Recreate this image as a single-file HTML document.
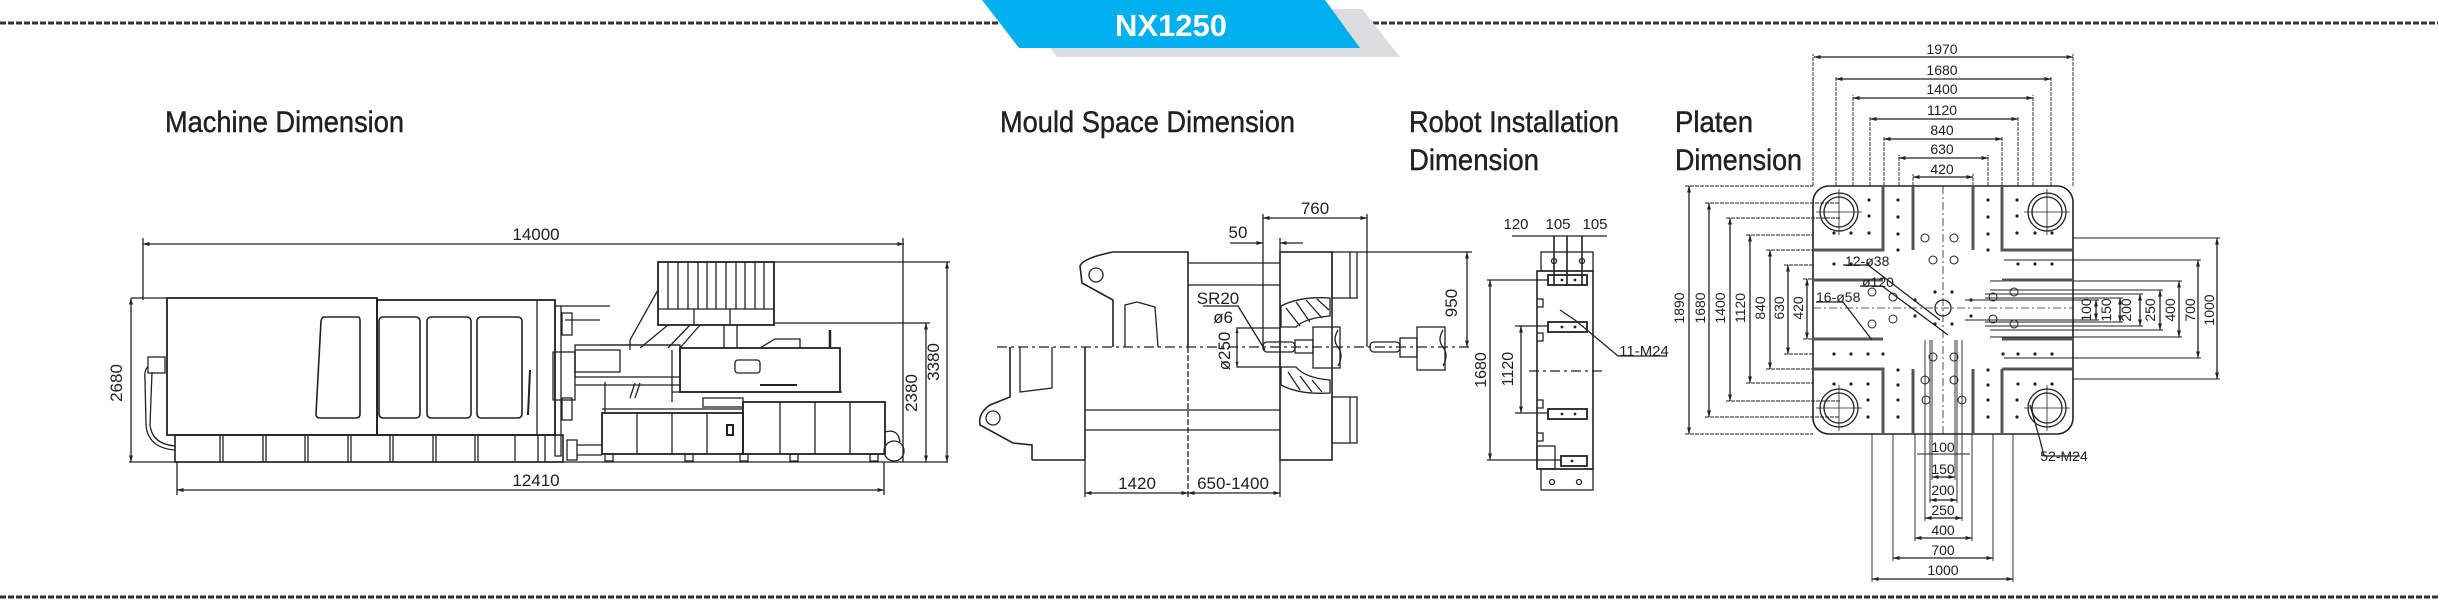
<!DOCTYPE html>
<html><head><meta charset="utf-8"><style>
html,body{margin:0;padding:0;background:#fff;}
svg{display:block;}
text{font-family:"Liberation Sans",sans-serif;fill:#222;}
</style></head><body>
<svg width="2438" height="601" viewBox="0 0 2438 601" xmlns="http://www.w3.org/2000/svg">
<defs>
<marker id="a" viewBox="0 0 10 10" refX="10" refY="5" markerWidth="7" markerHeight="5" orient="auto-start-reverse"><path d="M0,2 L10,5 L0,8 z" fill="#222"/></marker>
</defs>
<g stroke="#333" stroke-width="3" stroke-dasharray="6,2">
<line x1="0" y1="23" x2="1000" y2="23"/>
<line x1="1373" y1="23" x2="2438" y2="23"/>
<line x1="0" y1="597" x2="2438" y2="597"/>
</g>
<polygon points="1020,9 1362,9 1400,57 1057,57" fill="#dcdddf"/>
<polygon points="982,0 1325,0 1360,48 1019,48" fill="#00b0ee"/>
<text x="1171" y="36" text-anchor="middle" style="font-weight:bold;font-size:31px;fill:#fff">NX1250</text>

<g style="font-size:30px;fill:#111;stroke:#111;stroke-width:0.4">
<text x="165" y="132" textLength="239" lengthAdjust="spacingAndGlyphs">Machine Dimension</text>
<text x="1000" y="132" textLength="295" lengthAdjust="spacingAndGlyphs">Mould Space Dimension</text>
<text x="1409" y="132" textLength="210" lengthAdjust="spacingAndGlyphs">Robot Installation</text>
<text x="1409" y="170" textLength="130" lengthAdjust="spacingAndGlyphs">Dimension</text>
<text x="1675" y="132" textLength="78" lengthAdjust="spacingAndGlyphs">Platen</text>
<text x="1675" y="170" textLength="127" lengthAdjust="spacingAndGlyphs">Dimension</text>
</g>

<g fill="none" stroke="#222" stroke-width="1.3">
<line x1="143" y1="244" x2="904" y2="244" marker-start="url(#a)" marker-end="url(#a)"/>
<line x1="143" y1="238" x2="143" y2="300"/>
<line x1="903" y1="238" x2="903" y2="462"/>
<line x1="129" y1="462" x2="948" y2="462"/>
<line x1="177" y1="490" x2="884" y2="490" marker-start="url(#a)" marker-end="url(#a)"/>
<line x1="177" y1="462" x2="177" y2="495"/>
<line x1="884" y1="462" x2="884" y2="495"/>
<line x1="131" y1="298" x2="167" y2="298"/>
<line x1="131" y1="298" x2="131" y2="462" marker-start="url(#a)" marker-end="url(#a)"/>
<line x1="774" y1="262" x2="950" y2="262"/>
<line x1="947" y1="262" x2="947" y2="462" marker-start="url(#a)" marker-end="url(#a)"/>
<line x1="774" y1="323" x2="930" y2="323"/>
<line x1="926" y1="323" x2="926" y2="462" marker-start="url(#a)" marker-end="url(#a)"/>
<rect x="167" y="298" width="210" height="137" stroke-width="1.8"/>
<rect x="377" y="300" width="178" height="135" stroke-width="1.8"/>
<line x1="537" y1="300" x2="537" y2="435"/>
<path d="M324,317 L358,317 Q360,317 360,321 L360,414 Q360,418 356,418 L320,418 Q316,418 316,414 L321,321 Q322,317 324,317z" stroke-width="1.6"/>
<rect x="379" y="317" width="41" height="101" rx="4" stroke-width="1.6"/>
<rect x="427" y="317" width="44" height="101" rx="4" stroke-width="1.6"/>
<rect x="477" y="317" width="45" height="101" rx="4" stroke-width="1.6"/>
<line x1="530" y1="370" x2="528" y2="415" stroke-width="2"/>
<rect x="175" y="435" width="388" height="27" stroke-width="1.6"/>
<path d="M220,435V462M223,435V462M263,435V462M266,435V462M305,435V462M308,435V462M348,435V462M351,435V462M390,435V462M393,435V462M433,435V462M436,435V462M475,435V462M478,435V462M515,435V462M538,435V462M545,435V462"/>
<rect x="148" y="357" width="17" height="16"/>
<path d="M148,367 Q144,369 145,380 L146,425 Q148,448 175,450"/>
<path d="M152,372 L150,425 Q152,444 175,446"/>
<rect x="555" y="306" width="6" height="150"/>
<rect x="562" y="313" width="10" height="22"/>
<rect x="562" y="398" width="10" height="22"/>
<rect x="553" y="352" width="22" height="48"/>
<line x1="561" y1="306" x2="610" y2="306"/>
<line x1="565" y1="320" x2="600" y2="320"/>
<rect x="575" y="345" width="105" height="32"/>
<rect x="575" y="350" width="45" height="22"/>
<line x1="575" y1="385" x2="680" y2="385"/>
<line x1="600" y1="345" x2="680" y2="345"/>
<rect x="567" y="440" width="10" height="20"/>
<line x1="577" y1="445" x2="602" y2="445"/>
<line x1="577" y1="455" x2="602" y2="455"/>
<rect x="658" y="262" width="116" height="63" stroke-width="1.8"/>
<line x1="658" y1="309" x2="774" y2="309"/>
<path d="M668,262V309M678,262V309M688,262V309M698,262V309M707,262V309M716,262V309M726,262V309M736,262V309M745,262V309M755,262V309M764,262V309"/>
<path d="M694,309V325M730,309V325"/>
<path d="M658,290 L630,340 L630,350 M668,325 L640,348 M690,325 L668,348 M700,325 L680,348"/>
<path d="M724,325 L724,348 M737,325 L737,348"/>
<rect x="680" y="348" width="160" height="44" stroke-width="1.8"/>
<line x1="672" y1="392" x2="842" y2="392"/>
<line x1="672" y1="350" x2="672" y2="402"/>
<path d="M760,348 L775,339 L800,339 L800,348"/>
<line x1="830" y1="330" x2="830" y2="348" stroke-width="2.5"/>
<rect x="735" y="360" width="25" height="13" rx="3"/>
<line x1="760" y1="385" x2="797" y2="385" stroke-width="2"/>
<path d="M635,383 L630,398 M640,383 L635,398 M605,382 L605,412"/>
<rect x="602" y="413" width="141" height="41" stroke-width="1.8"/>
<rect x="743" y="402" width="142" height="52" stroke-width="1.8"/>
<line x1="602" y1="409" x2="743" y2="409"/>
<path d="M637,413V454M672,413V454M707,413V454M780,402V454M815,402V454M850,402V454"/>
<rect x="727" y="425" width="6" height="10" stroke-width="2"/>
<rect x="703" y="398" width="40" height="9"/>
<path d="M605,454h8v7h-8zM685,454h8v7h-8zM740,454h8v7h-8zM790,454h8v7h-8zM870,454h8v7h-8z"/>
<circle cx="894" cy="451" r="10"/>
<path d="M885,432 Q898,428 900,442"/>

<line x1="997" y1="347" x2="1470" y2="347" stroke-dasharray="10,4,3,4"/>
<path d="M1113,252 L1188,252 L1188,347 M1113,252 Q1083,258 1080,266 L1082,283 L1113,300 L1113,347" stroke-width="1.6"/>
<circle cx="1096" cy="275" r="7"/>
<path d="M1125,347 L1125,305 L1137,302 L1155,307 L1158,347"/>
<path d="M1085,347 L1085,460 M1032,460 L1085,460 M1010,347 L1010,397 L990,405 Q978,413 980,425 L1013,443 L1032,445 L1032,460" stroke-width="1.6"/>
<circle cx="993" cy="418" r="7"/>
<path d="M1020,347 L1020,392 L1052,388 L1052,347"/>
<line x1="1188" y1="347" x2="1188" y2="497" stroke-dasharray="6,2"/>
<line x1="1085" y1="460" x2="1085" y2="497"/>
<path d="M1188,263 H1280 M1188,285 H1280 M1085,410 H1280 M1085,430 H1280"/>
<rect x="1280" y="252" width="52" height="208" stroke-width="1.6"/>
<rect x="1332" y="252" width="25" height="46"/>
<line x1="1350" y1="252" x2="1350" y2="298"/>
<rect x="1332" y="397" width="25" height="46"/>
<line x1="1350" y1="397" x2="1350" y2="443"/>
<path d="M1281,306 Q1300,296 1330,298 L1330,316 Q1305,318 1296,327 L1281,327z" fill="#fff"/>
<path d="M1286,308 L1300,326 M1296,302 L1310,322 M1306,300 L1322,318 M1317,299 L1329,310"/>
<path d="M1281,367 L1296,367 Q1305,378 1330,380 L1330,393 Q1300,395 1281,385z"/>
<path d="M1288,372 L1300,390 M1300,376 L1312,392 M1312,380 L1322,392"/>
<rect x="1237" y="328" width="43" height="39"/>
<rect x="1263" y="342" width="32" height="10" rx="4"/>
<rect x="1295" y="340" width="18" height="13"/>
<rect x="1313" y="327" width="27" height="41"/>
<path d="M1338,330 Q1332,340 1338,347 Q1344,355 1338,366"/>
<rect x="1370" y="342" width="30" height="10" rx="4"/>
<rect x="1400" y="338" width="17" height="19"/>
<rect x="1417" y="327" width="28" height="43"/>
<path d="M1443,330 Q1437,340 1443,347 Q1449,355 1443,366"/>
<line x1="1263" y1="214" x2="1263" y2="347"/>
<line x1="1367" y1="214" x2="1367" y2="347"/>
<line x1="1263" y1="218" x2="1367" y2="218" marker-start="url(#a)" marker-end="url(#a)"/>
<line x1="1230" y1="243" x2="1263" y2="243" marker-end="url(#a)"/>
<line x1="1303" y1="243" x2="1280" y2="243" marker-end="url(#a)"/>
<line x1="1280" y1="238" x2="1280" y2="252"/>
<line x1="1357" y1="252" x2="1472" y2="252"/>
<line x1="1467" y1="252" x2="1467" y2="347" marker-start="url(#a)" marker-end="url(#a)"/>
<line x1="1085" y1="493" x2="1188" y2="493" marker-start="url(#a)" marker-end="url(#a)"/>
<line x1="1188" y1="493" x2="1280" y2="493" marker-start="url(#a)" marker-end="url(#a)"/>
<line x1="1280" y1="460" x2="1280" y2="497"/>
<path d="M1203,306 L1238,306 L1265,350"/>
<line x1="1237" y1="328" x2="1237" y2="367" marker-start="url(#a)" marker-end="url(#a)" stroke-width="1"/>

<rect x="1537" y="271" width="56" height="198" stroke-width="1.6"/>
<rect x="1541" y="252" width="52" height="19"/>
<rect x="1541" y="469" width="52" height="21"/>
<circle cx="1554" cy="261" r="2.5"/><circle cx="1582" cy="261" r="2.5"/>
<circle cx="1552" cy="482" r="2.5"/><circle cx="1579" cy="482" r="2.5"/>
<rect x="1548" y="275" width="39" height="10" stroke-width="1.8"/>
<rect x="1548" y="322" width="39" height="10" stroke-width="1.8"/>
<rect x="1548" y="409" width="39" height="10" stroke-width="1.8"/>
<rect x="1561" y="456" width="26" height="10" stroke-width="1.8"/>
<rect x="1537" y="446" width="18" height="23"/>
<path d="M1537,299h6v8h-6M1537,333h6v8h-6M1537,400h6v8h-6M1537,433h6v8h-6"/>
<line x1="1512" y1="236" x2="1607" y2="236"/>
<path d="M1554,236V285M1567,236V285M1582,236V285" stroke-width="1.6"/>
<line x1="1487" y1="280" x2="1548" y2="280"/>
<line x1="1487" y1="460" x2="1561" y2="460"/>
<line x1="1490" y1="280" x2="1490" y2="460" marker-start="url(#a)" marker-end="url(#a)"/>
<line x1="1515" y1="326" x2="1548" y2="326"/>
<line x1="1515" y1="413" x2="1548" y2="413"/>
<line x1="1521" y1="326" x2="1521" y2="413" marker-start="url(#a)" marker-end="url(#a)"/>
<line x1="1529" y1="371" x2="1604" y2="371" stroke-dasharray="10,4,3,4"/>
<path d="M1560,310 L1575,320 L1618,356 L1667,356"/>

<rect x="1813" y="186" width="260" height="248" rx="16" stroke-width="1.6"/>
<path d="M1813,186V54M2073,186V54M1836,186V76M2051,186V76M1853,186V95M2033,186V95M1870,186V116M2018,186V116M1884,186V136M2002,186V136M1899,186V155M1988,186V155M1913,186V174M1973,186V174" stroke-width="0.9" stroke-dasharray="4,1"/>
<g marker-start="url(#a)" marker-end="url(#a)">
<line x1="1814" y1="57" x2="2073" y2="57"/>
<line x1="1836" y1="79" x2="2051" y2="79"/>
<line x1="1853" y1="98" x2="2033" y2="98"/>
<line x1="1870" y1="119" x2="2018" y2="119"/>
<line x1="1884" y1="139" x2="2002" y2="139"/>
<line x1="1899" y1="158" x2="1988" y2="158"/>
<line x1="1913" y1="177" x2="1973" y2="177"/>
<line x1="1689" y1="186" x2="1689" y2="434"/>
<line x1="1709" y1="203" x2="1709" y2="417"/>
<line x1="1730" y1="218" x2="1730" y2="401"/>
<line x1="1750" y1="235" x2="1750" y2="383"/>
<line x1="1770" y1="250" x2="1770" y2="369"/>
<line x1="1788" y1="265" x2="1788" y2="354"/>
<line x1="1807" y1="279" x2="1807" y2="339"/>
<line x1="2217" y1="238" x2="2217" y2="379"/>
<line x1="2198" y1="260" x2="2198" y2="358"/>
<line x1="2179" y1="281" x2="2179" y2="337"/>
<line x1="2160" y1="290" x2="2160" y2="330"/>
<line x1="2140" y1="294" x2="2140" y2="326"/>
<line x1="2120" y1="298" x2="2120" y2="322"/>
<line x1="2096" y1="300" x2="2096" y2="320"/>
<line x1="1872" y1="579" x2="2013" y2="579"/>
<line x1="1893" y1="558" x2="1993" y2="558"/>
<line x1="1915" y1="538" x2="1972" y2="538"/>
<line x1="1925" y1="518" x2="1962" y2="518"/>
<line x1="1930" y1="500" x2="1957" y2="500"/>
<line x1="1932" y1="477" x2="1955" y2="477"/>
</g>
<path d="M1685,186H1813M1705,203H1840M1726,218H1840M1746,235H1813M1766,250H1813M1784,265H1813M1803,279H1813M1685,434H1813M1705,417H1840M1726,401H1840M1746,383H1813M1766,369H1813M1784,354H1813M1803,339H1813" stroke-width="0.9" stroke-dasharray="4,1"/>
<path d="M2073,238H2220M2004,260H2201M1990,281H2182M1990,290H2163M1985,294H2143M1985,298H2123M1965,300H2099M2073,379H2220M2004,358H2201M1990,337H2182M1990,330H2163M1985,326H2143M1985,322H2123M1965,320H2099" stroke-width="0.9"/>
<path d="M1872,434V582M2013,434V582M1893,434V561M1993,434V561M1915,434V541M1972,434V541M1925,340V521M1962,340V521M1930,340V503M1957,340V503M1932,340V480M1955,340V480M1917,454H1970" stroke-width="0.9"/>
<g stroke-width="3" stroke="#555">
<path d="M1883,186V250H1813M1913,186V250M1813,280H1883M2002,186V250H2073M1973,186V250M2002,280H2073"/>
<path d="M1813,339H1883M1813,369H1883V434M1913,369V434M2002,339H2073M2002,369H2073M2002,369V434M1973,369V434"/>
</g>
<g>
<circle cx="1839" cy="212" r="19"/><circle cx="1839" cy="212" r="15"/>
<circle cx="2047" cy="212" r="19"/><circle cx="2047" cy="212" r="15"/>
<circle cx="1839" cy="408" r="19"/><circle cx="1839" cy="408" r="15"/>
<circle cx="2047" cy="408" r="19"/><circle cx="2047" cy="408" r="15"/>
<path d="M1816,212H1862M1839,189V235M2024,212H2070M2047,189V235M1816,408H1862M1839,385V431M2024,408H2070M2047,385V431" stroke-width="0.8"/>
</g>
<circle cx="1943" cy="308" r="8"/>
<path d="M1943,186V434M1813,308H2073" stroke-width="0.8" stroke-dasharray="8,3,2,3"/>
<g stroke-width="1">
<circle cx="1925" cy="238" r="4"/><circle cx="1954" cy="238" r="4"/>
<circle cx="1933" cy="260" r="4"/><circle cx="1954" cy="260" r="4"/>
<circle cx="1925" cy="380" r="4"/><circle cx="1954" cy="380" r="4"/>
<circle cx="1933" cy="357" r="4"/><circle cx="1954" cy="357" r="4"/>
<circle cx="1872" cy="292" r="4"/><circle cx="1893" cy="297" r="4"/><circle cx="1893" cy="319" r="4"/><circle cx="1872" cy="324" r="4"/>
<circle cx="1993" cy="297" r="4"/><circle cx="2014" cy="292" r="4"/><circle cx="1993" cy="319" r="4"/><circle cx="2014" cy="324" r="4"/>
<circle cx="1926" cy="400" r="4"/><circle cx="1962" cy="400" r="4"/>
</g>
<path d="M1843,265L1868,265L1940,320M1860,286L1882,286L1948,335M1816,302L1843,302L1872,340M2030,405L2040,440L2044,456L2080,456"/>
</g>
<g fill="#222">
<circle cx="1869" cy="200" r="1.6"/><circle cx="1869" cy="216" r="1.6"/><circle cx="1869" cy="233" r="1.6"/><circle cx="1851" cy="233" r="1.6"/><circle cx="1834" cy="233" r="1.6"/>
<circle cx="1898" cy="200" r="1.6"/><circle cx="1898" cy="217" r="1.6"/><circle cx="1898" cy="234" r="1.6"/><circle cx="1898" cy="250" r="1.6"/>
<circle cx="1988" cy="200" r="1.6"/><circle cx="1988" cy="217" r="1.6"/><circle cx="1988" cy="234" r="1.6"/><circle cx="1988" cy="250" r="1.6"/>
<circle cx="2017" cy="200" r="1.6"/><circle cx="2017" cy="216" r="1.6"/><circle cx="2017" cy="233" r="1.6"/><circle cx="2035" cy="233" r="1.6"/><circle cx="2052" cy="233" r="1.6"/>
<circle cx="1834" cy="264" r="1.6"/><circle cx="1851" cy="264" r="1.6"/><circle cx="1868" cy="264" r="1.6"/>
<circle cx="2018" cy="264" r="1.6"/><circle cx="2035" cy="264" r="1.6"/><circle cx="2052" cy="264" r="1.6"/>
<circle cx="1834" cy="354" r="1.6"/><circle cx="1851" cy="354" r="1.6"/><circle cx="1868" cy="354" r="1.6"/><circle cx="1883" cy="354" r="1.6"/>
<circle cx="2003" cy="354" r="1.6"/><circle cx="2018" cy="354" r="1.6"/><circle cx="2035" cy="354" r="1.6"/><circle cx="2052" cy="354" r="1.6"/>
<circle cx="1834" cy="384" r="1.6"/><circle cx="1851" cy="384" r="1.6"/><circle cx="1868" cy="384" r="1.6"/>
<circle cx="2018" cy="384" r="1.6"/><circle cx="2035" cy="384" r="1.6"/><circle cx="2052" cy="384" r="1.6"/>
<circle cx="1898" cy="370" r="1.6"/><circle cx="1898" cy="385" r="1.6"/><circle cx="1898" cy="400" r="1.6"/><circle cx="1898" cy="417" r="1.6"/>
<circle cx="1988" cy="370" r="1.6"/><circle cx="1988" cy="385" r="1.6"/><circle cx="1988" cy="400" r="1.6"/><circle cx="1988" cy="417" r="1.6"/>
<circle cx="1868" cy="400" r="1.6"/><circle cx="1868" cy="417" r="1.6"/><circle cx="2017" cy="400" r="1.6"/><circle cx="2017" cy="417" r="1.6"/>
<circle cx="1915" cy="300" r="1.6"/><circle cx="1915" cy="316" r="1.6"/><circle cx="1971" cy="300" r="1.6"/><circle cx="1971" cy="316" r="1.6"/>
<circle cx="1935" cy="292" r="1.6"/><circle cx="1952" cy="292" r="1.6"/><circle cx="1935" cy="324" r="1.6"/><circle cx="1952" cy="324" r="1.6"/>
<circle cx="1562" cy="280" r="1.4"/><circle cx="1575" cy="280" r="1.4"/><circle cx="1562" cy="327" r="1.4"/><circle cx="1575" cy="327" r="1.4"/>
<circle cx="1562" cy="414" r="1.4"/><circle cx="1575" cy="414" r="1.4"/><circle cx="1572" cy="461" r="1.4"/>
</g>

<g style="font-size:17px" text-anchor="middle">
<text x="536" y="240">14000</text>
<text x="536" y="486">12410</text>
<text transform="translate(122,383) rotate(-90)">2680</text>
<text transform="translate(917,393) rotate(-90)">2380</text>
<text transform="translate(939,362) rotate(-90)">3380</text>
<text x="1315" y="214">760</text>
<text x="1238" y="238">50</text>
<text transform="translate(1457,303) rotate(-90)">950</text>
<text x="1137" y="489">1420</text>
<text x="1233" y="489">650-1400</text>
<text x="1218" y="304">SR20</text>
<text x="1223" y="323">ø6</text>
<text transform="translate(1230,351) rotate(-90)">ø250</text>
<text x="1516" y="229" style="font-size:15px">120</text>
<text x="1558" y="229" style="font-size:15px">105</text>
<text x="1595" y="229" style="font-size:15px">105</text>
<text transform="translate(1486,370) rotate(-90)" style="font-size:16px">1680</text>
<text transform="translate(1513,369) rotate(-90)" style="font-size:16px">1120</text>
<text x="1644" y="356" style="font-size:15px">11-M24</text>
</g>
<g style="font-size:14px" text-anchor="middle">
<text x="1942" y="54">1970</text>
<text x="1942" y="75">1680</text>
<text x="1942" y="94">1400</text>
<text x="1942" y="115">1120</text>
<text x="1942" y="135">840</text>
<text x="1942" y="154">630</text>
<text x="1942" y="174">420</text>
<text transform="translate(1684,308) rotate(-90)">1890</text>
<text transform="translate(1705,308) rotate(-90)">1680</text>
<text transform="translate(1725,308) rotate(-90)">1400</text>
<text transform="translate(1745,308) rotate(-90)">1120</text>
<text transform="translate(1765,308) rotate(-90)">840</text>
<text transform="translate(1784,308) rotate(-90)">630</text>
<text transform="translate(1803,308) rotate(-90)">420</text>
<text transform="translate(2091,310) rotate(-90)">100</text>
<text transform="translate(2111,310) rotate(-90)">150</text>
<text transform="translate(2131,310) rotate(-90)">200</text>
<text transform="translate(2155,310) rotate(-90)">250</text>
<text transform="translate(2175,310) rotate(-90)">400</text>
<text transform="translate(2195,310) rotate(-90)">700</text>
<text transform="translate(2214,310) rotate(-90)">1000</text>
<text x="1943" y="452">100</text>
<text x="1943" y="474">150</text>
<text x="1943" y="495">200</text>
<text x="1943" y="515">250</text>
<text x="1943" y="535">400</text>
<text x="1943" y="555">700</text>
<text x="1943" y="575">1000</text>
<text x="2064" y="461">52-M24</text>
</g>
<g style="font-size:14px">
<text x="1845" y="266">12-ø38</text>
<text x="1862" y="287">ø120</text>
<text x="1816" y="302">16-ø58</text>
</g>
</svg>
</body></html>
